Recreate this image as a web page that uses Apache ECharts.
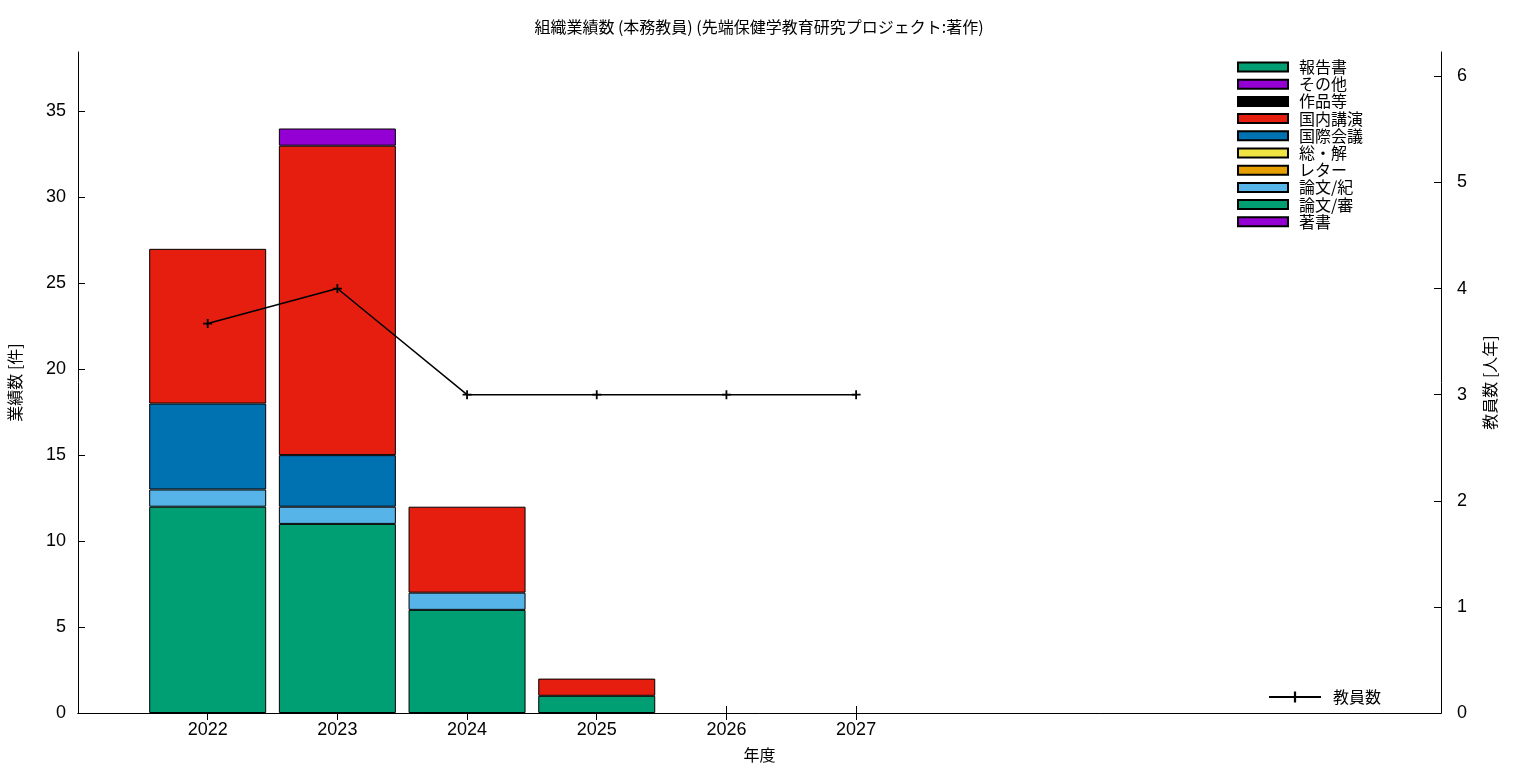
<!DOCTYPE html>
<html><head><meta charset="utf-8">
<script src="https://cdn.jsdelivr.net/npm/echarts@6/dist/echarts.min.js"></script>
<style>html,body{margin:0;padding:0;background:#fff}#c{width:1536px;height:768px}</style>
</head><body><div id="c"></div>
<script>
const years = [2022, 2023, 2024, 2025, 2026, 2027];
// stack order bottom -> top
const ronbunShin = [12, 11, 6, 1, 0, 0];   // 論文/審
const ronbunKi   = [1, 1, 1, 0, 0, 0];     // 論文/紀
const letter     = [0, 0, 0, 0, 0, 0];     // レター
const souKai     = [0, 0, 0, 0, 0, 0];     // 総・解
const kokusai    = [5, 3, 0, 0, 0, 0];     // 国際会議
const kokunai    = [9, 18, 5, 1, 0, 0];    // 国内講演
const sakuhin    = [0, 0, 0, 0, 0, 0];     // 作品等
const sonota     = [0, 1, 0, 0, 0, 0];     // その他
const houkoku    = [0, 0, 0, 0, 0, 0];     // 報告書
const chosho     = [0, 0, 0, 0, 0, 0];     // 著書
const faculty    = [3.67, 4, 3, 3, 3, 3];  // 教員数
const yLeftTicks = [0, 5, 10, 15, 20, 25, 30, 35];
const yRightTicks = [0, 1, 2, 3, 4, 5, 6];

const FONT = '"Liberation Sans", "Noto Sans CJK JP", sans-serif';
const CJK = '"Noto Sans CJK JP", "Liberation Sans", sans-serif';

const barDefs = [
  ['著書', chosho, '#9400d3'],
  ['論文/審', ronbunShin, '#009e73'],
  ['論文/紀', ronbunKi, '#56b4e9'],
  ['レター', letter, '#e69f00'],
  ['総・解', souKai, '#f0e442'],
  ['国際会議', kokusai, '#0072b2'],
  ['国内講演', kokunai, '#e51e10'],
  ['作品等', sakuhin, '#000000'],
  ['その他', sonota, '#9400d3'],
  ['報告書', houkoku, '#009e73']
];
const series = barDefs.map(([name, vals, color]) => ({
  name, type: 'bar', stack: 'all', barWidth: 117,
  xAxisIndex: 0, yAxisIndex: 0,
  encode: {x: 1, y: 0},
  itemStyle: {color, borderColor: '#000', borderWidth: 1},
  emphasis: {disabled: true},
  data: years.map((y, i) => [vals[i] === 0 ? '-' : vals[i], y])
}));
const plus = 'path://M4,0h2v4h4v2h-4v4h-2v-4h-4v-2h4z';
series.push({
  name: '教員数', type: 'line', xAxisIndex: 0, yAxisIndex: 1, z: 10,
  symbol: plus, symbolSize: 9, showSymbol: true,
  lineStyle: {color: '#000', width: 1.5},
  itemStyle: {color: '#000'},
  emphasis: {disabled: true},
  data: years.map((y, i) => [y, faculty[i]])
});

const legendNames = barDefs.map(d => d[0]).reverse();
const chart = echarts.init(document.getElementById('c'), null, {renderer: 'canvas'});
chart.setOption({
  animation: false,
  backgroundColor: '#fff',
  title: {text: '組織業績数 (本務教員) (先端保健学教育研究プロジェクト:著作)', left: 754, top: 14, textAlign: 'center',
    textStyle: {fontFamily: CJK, fontSize: 16, fontWeight: 'normal', color: '#000'}},
  grid: {left: 78, right: 95, top: 52, bottom: 55, outerBoundsMode: 'none', containLabel: false},
  legend: [{
    data: legendNames, orient: 'vertical', left: 1237, top: 59, padding: 0,
    icon: 'rect',
    itemWidth: 50, itemHeight: 9, itemGap: 1.2,
    textStyle: {fontFamily: CJK, fontSize: 16, lineHeight: 16, color: '#000', padding: [0, 0, 0, 6]},
    selectedMode: false
  }, {
    data: ['教員数'], orient: 'vertical', left: 1268, top: 689, padding: 0,
    itemWidth: 52, itemHeight: 14,
    textStyle: {fontFamily: CJK, fontSize: 16, color: '#000', padding: [0, 0, 0, 7]},
    selectedMode: false
  }],
  xAxis: [{
    type: 'value', min: 2021, max: 2031.51, position: 'bottom',
    name: '年度', nameLocation: 'middle', nameGap: 34,
    nameTextStyle: {fontFamily: CJK, fontSize: 16, color: '#000'},
    axisLine: {show: true, lineStyle: {color: '#000', width: 1}},
    axisTick: {show: true, inside: true, length: 7, customValues: years, lineStyle: {color: '#000'}},
    axisLabel: {customValues: years, formatter: v => String(v), fontFamily: FONT, fontSize: 18, color: '#000', margin: 8},
    splitLine: {show: false}
  }, {
    type: 'value', min: 2021, max: 2031.51, position: 'top',
    axisLine: {show: true, lineStyle: {color: '#000', width: 1}},
    axisTick: {show: true, inside: true, length: 7, customValues: years, lineStyle: {color: '#000'}},
    axisLabel: {show: false}, splitLine: {show: false}
  }],
  yAxis: [{
    type: 'value', min: 0, max: 38.45, position: 'left',
    name: '業績数 [件]', nameLocation: 'middle', nameGap: 55, nameRotate: 90,
    nameTextStyle: {fontFamily: CJK, fontSize: 16, color: '#000'},
    axisLine: {show: true, lineStyle: {color: '#000', width: 1}},
    axisTick: {show: true, inside: true, length: 7, customValues: yLeftTicks, lineStyle: {color: '#000'}},
    axisLabel: {customValues: yLeftTicks, fontFamily: FONT, fontSize: 18, color: '#000', margin: 12},
    splitLine: {show: false}
  }, {
    type: 'value', min: 0, max: 6.229, position: 'right',
    name: '教員数 [人年]', nameLocation: 'middle', nameGap: 41, nameRotate: 90,
    nameTextStyle: {fontFamily: CJK, fontSize: 16, color: '#000'},
    axisLine: {show: true, lineStyle: {color: '#000', width: 1}},
    axisTick: {show: true, inside: true, length: 7, customValues: yRightTicks, lineStyle: {color: '#000'}},
    axisLabel: {customValues: yRightTicks, fontFamily: FONT, fontSize: 18, color: '#000', margin: 16},
    splitLine: {show: false}
  }],
  series
});
</script></body></html>
